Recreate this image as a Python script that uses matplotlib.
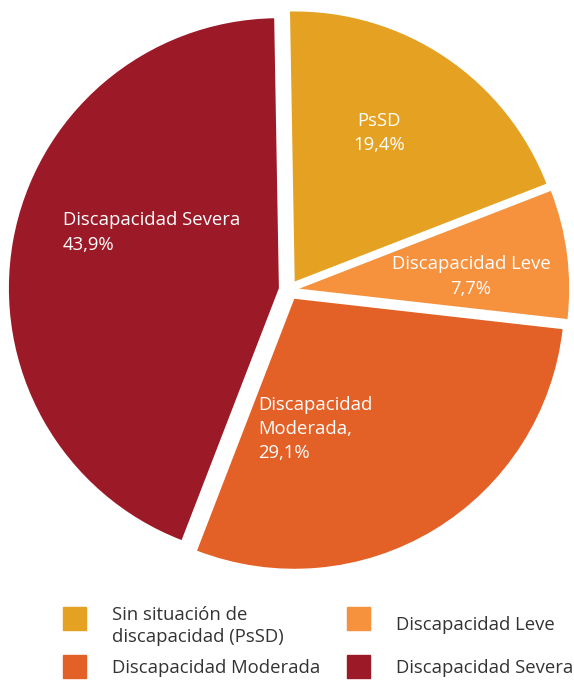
import numpy as np
import matplotlib
matplotlib.use("Agg")
import matplotlib.pyplot as plt
from matplotlib.patches import Rectangle

plt.rcParams['font.family'] = ['Open Sans', 'DejaVu Sans']

# Distribución por situación de discapacidad
categorias = ['PsSD', 'Discapacidad Leve', 'Discapacidad Moderada', 'Discapacidad Severa']
porcentajes = [19.4, 7.7, 29.1, 43.9]
etiquetas_pie = ['PsSD\n19,4%', 'Discapacidad Leve\n7,7%', 'Discapacidad\nModerada,\n29,1%',
                 'Discapacidad Severa\n43,9%']
etiquetas_leyenda = ['Sin situación de\ndiscapacidad (PsSD)', 'Discapacidad Leve',
                     'Discapacidad Moderada', 'Discapacidad Severa']
colores = ['#E4A122', '#F6913E', '#E36026', '#9C1A28']

W, H = 574, 681
fig = plt.figure(figsize=(W / 100, H / 100), dpi=100)
ax = fig.add_axes([0, 0, 1, 1])

# centro y radio del pastel en pixeles
cx, cy, r = 289, 290, 270
wedges, _ = ax.pie(porcentajes, colors=colores, startangle=91, counterclock=False,
                   explode=[0.038] * 4, radius=1.0)
ax.set_aspect('auto')
ax.set_xlim(-cx / r, (W - cx) / r)
ax.set_ylim(-(H - cy) / r, cy / r)
ax.axis('off')

# etiquetas dentro de cada sector: distancia al centro, alineación y desplazamiento (px)
ajustes = [(0.70, 'center', -15, 0), (0.68, 'center', 0, -10),
           (0.55, 'left', -108, -12), (0.58, 'left', -72, 30)]
for w, txt, (dist, ha, dx, dy) in zip(wedges, etiquetas_pie, ajustes):
    ang = np.deg2rad((w.theta1 + w.theta2) / 2)
    x = dist * np.cos(ang) + dx / r
    y = dist * np.sin(ang) + dy / r
    ax.text(x, y, txt, color='white', fontsize=13.3, ha=ha, va='center',
            linespacing=1.45)

# leyenda en dos columnas: (sector, x del cuadro, y del cuadro, x del texto, y del texto)
orden = [(0, 63, 618, 112, 626), (2, 63, 666, 112, 668),
         (1, 347, 618, 396, 625), (3, 347, 666, 396, 668)]
for i, px, py, tx, ty in orden:
    fig.patches.append(Rectangle((px / W, 1 - (py + 11.5) / H), 23 / W, 23 / H,
                                 transform=fig.transFigure, color=colores[i]))
    fig.text(tx / W, 1 - ty / H, etiquetas_leyenda[i], fontsize=13.3,
             color='#333333', ha='left', va='center', linespacing=1.3)

fig.savefig('out.png', dpi=100)
